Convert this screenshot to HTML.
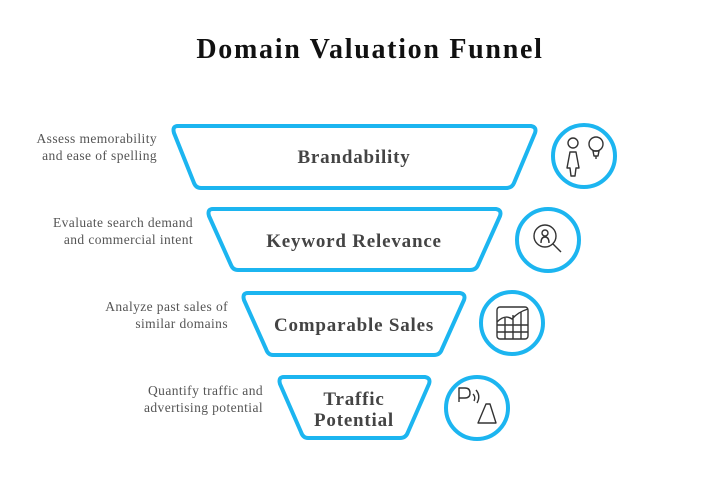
<!DOCTYPE html>
<html><head><style>
body{margin:0;background:#fff;}
svg text{font-family:"Liberation Serif",serif;}
</style></head><body>
<svg width="706" height="475" viewBox="0 0 706 475" xmlns="http://www.w3.org/2000/svg">
<rect width="706" height="475" fill="#fff"/>
<text x="370" y="58" text-anchor="middle" font-size="28" font-weight="bold" fill="#111" letter-spacing="1.7">Domain Valuation Funnel</text>
<g fill="none" stroke="#1cb5f0" stroke-width="4" stroke-linejoin="round">
<path d="M178,126 L531,126 Q537,127 535,133 L514,183 Q512,188 506,188 L201,188 Q196,188 194,183 L174,133 Q172,126 178,126Z"/>
<path d="M213,209 L496,209 Q502,210 500,216 L478,265 Q476,270 470,270 L238,270 Q233,270 231,265 L209,216 Q207,209 213,209Z"/>
<path d="M248,293 L460,293 Q466,294 464,300 L442,349 Q440,355 434,355 L273,355 Q268,355 266,349 L244,300 Q242,293 248,293Z"/>
<path d="M284,377 L425,377 Q431,378 429,384 L408,432 Q406,438 400,438 L308,438 Q303,438 301,432 L280,384 Q278,377 284,377Z"/>
<circle cx="584" cy="156" r="31"/>
<circle cx="548" cy="240" r="31"/>
<circle cx="512" cy="323" r="31"/>
<circle cx="477" cy="408" r="31"/>
</g>
<g font-size="19" font-weight="bold" fill="#444" text-anchor="middle" letter-spacing="0.8">
<text x="354" y="163">Brandability</text>
<text x="354" y="247">Keyword Relevance</text>
<text x="354" y="331">Comparable Sales</text>
<text x="354" y="405">Traffic</text>
<text x="354" y="426">Potential</text>
</g>
<g font-size="13.5" fill="#555" text-anchor="end" letter-spacing="0.4">
<text x="157" y="143">Assess memorability</text>
<text x="157" y="160">and ease of spelling</text>
<text x="193" y="227">Evaluate search demand</text>
<text x="193" y="244">and commercial intent</text>
<text x="228" y="311">Analyze past sales of</text>
<text x="228" y="328">similar domains</text>
<text x="263" y="395">Quantify traffic and</text>
<text x="263" y="412">advertising potential</text>
</g>
<g fill="none" stroke="#333" stroke-width="1.4" stroke-linejoin="round">
<circle cx="573" cy="143" r="5"/>
<path d="M570,152 L576,152 L579,168 L576,168 L575,176 L571,176 L570,168 L567,168Z"/>
<circle cx="596" cy="144" r="7"/><path d="M593,151 L599,151 L598,156 L594,156Z M596,156 V159"/>
<circle cx="545" cy="236" r="11"/><path d="M553,244 L561,252"/>
<circle cx="545" cy="233" r="3"/><path d="M541,243 Q541,237 545,237 Q549,237 549,243"/>
<rect x="497" y="307" width="31" height="32" rx="3"/>
<path d="M497,325 L528,325 M497,332 L528,332 M505,318 V339 M513,315 V339 M521,312 V339 M497,322 Q505,314 512,319 Q518,312 528,309"/>
<path d="M459,402 V388 H465 Q470,388 470,393 Q470,398 465,398 H459"/>
<path d="M473,394 Q476,397 474,401 M476,390 Q481,396 477,403"/>
<path d="M478,423 L486,404 L490,404 L496,423Z"/>
</g>
</svg>
</body></html>
